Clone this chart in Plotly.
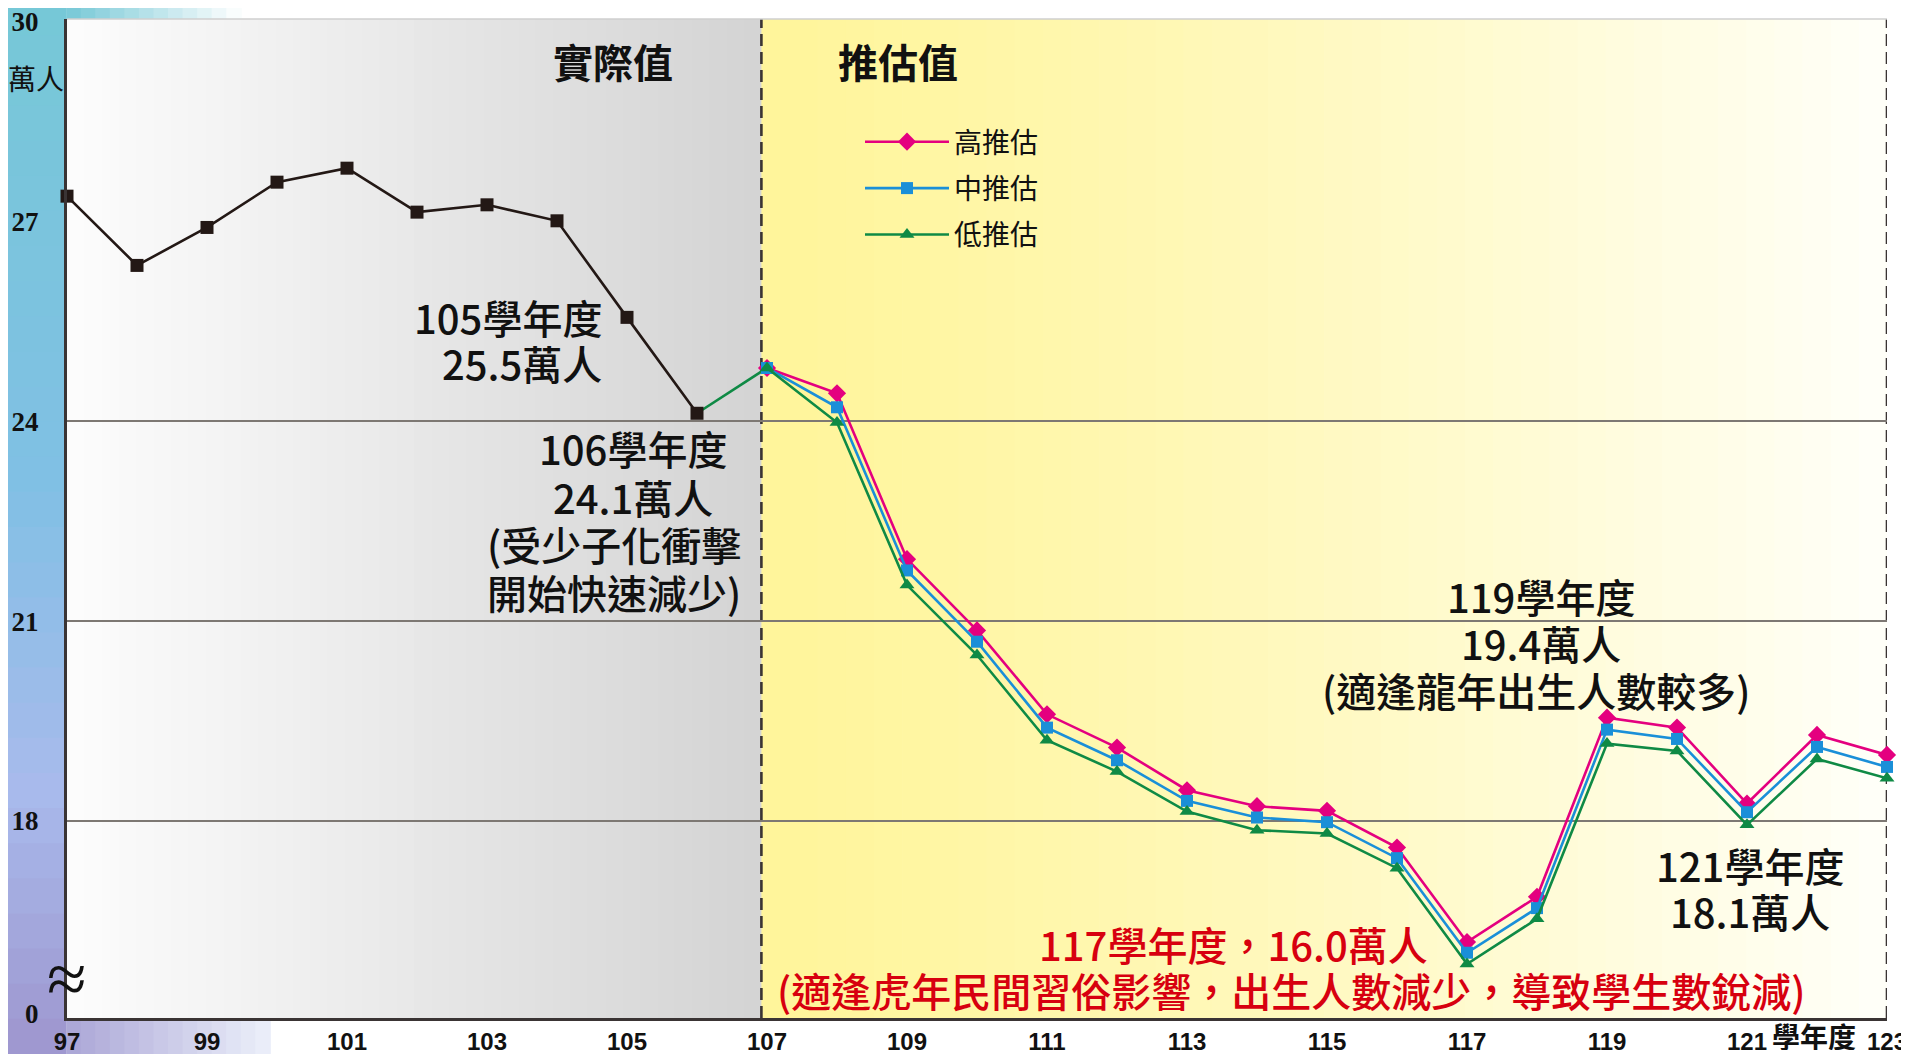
import plotly.graph_objects as go

# ---------------- data ----------------
years_actual = [97, 98, 99, 100, 101, 102, 103, 104, 105, 106]
actual = [27.38, 26.34, 26.91, 27.59, 27.80, 27.14, 27.25, 27.01, 25.56, 24.12]

years_proj = list(range(107, 124))
high = [24.80, 24.42, 21.93, 20.86, 19.60, 19.10, 18.46, 18.22, 18.15, 17.60,
        16.18, 16.86, 19.55, 19.40, 18.26, 19.29, 18.99]
mid = [24.80, 24.21, 21.76, 20.69, 19.40, 18.91, 18.30, 18.05, 17.98, 17.44,
       16.02, 16.69, 19.37, 19.23, 18.13, 19.11, 18.81]
low = [24.80, 23.98, 21.54, 20.49, 19.21, 18.74, 18.14, 17.86, 17.81, 17.29,
       15.85, 16.53, 19.16, 19.05, 17.94, 18.93, 18.64]

series_names = ["高推估", "中推估", "低推估"]
x_tick_vals = [97, 99, 101, 103, 105, 107, 109, 111, 113, 115, 117, 119, 121, 123]
x_tick_text = [str(v) for v in x_tick_vals]
y_tick_vals = [15.1, 18, 21, 24, 27, 30]
y_tick_text = ["0", "18", "21", "24", "27", "30"]
grid_vals = [18, 21, 24]

# ---------------- styles ----------------
C_ACT = "#231815"
C_HIGH = "#e4007f"
C_MID = "#1a8fd8"
C_LOW = "#0f8a45"
C_RED = "#d7000f"
CJK = "Noto Sans CJK TC"

X0, X1 = 97, 123
Y0, Y1 = 15.04, 30.04
SPLIT = 106.92

# page body has an 8px default margin; compensate so the plot lands where intended
W, H = 1901, 1046
ML, MT, MR, MB = 59, 11, 22, 36
PW, PH = W - ML - MR, H - MT - MB

fig = go.Figure()

# connector from last actual value to first projection
fig.add_trace(go.Scatter(x=[years_actual[-1], years_proj[0]], y=[actual[-1], low[0]],
                         mode="lines", line=dict(color=C_LOW, width=2.6),
                         showlegend=False, hoverinfo="skip", cliponaxis=False))
fig.add_trace(go.Scatter(x=years_actual, y=actual, mode="lines+markers",
                         line=dict(color=C_ACT, width=2.6),
                         marker=dict(symbol="square", size=13, color=C_ACT),
                         showlegend=False, cliponaxis=False))
for name, vals, col, sym, sz, grp in [
    (series_names[0], high, C_HIGH, "diamond", 14, "h"),
    (series_names[1], mid, C_MID, "square", 12, "m"),
    (series_names[2], low, C_LOW, "triangle-up", 13, "l"),
]:
    fig.add_trace(go.Scatter(x=years_proj, y=vals, name=name, mode="lines+markers",
                             line=dict(color=col, width=2.6),
                             marker=dict(symbol=sym, size=sz, color=col),
                             legendgroup=grp, cliponaxis=False))

shapes = []


def lerp(c1, c2, t):
    return "rgb(%d,%d,%d)" % tuple(round(a + (b - a) * t) for a, b in zip(c1, c2))


# gray gradient (actual region)
n = 40
for i in range(n):
    xa = X0 + (SPLIT - X0) * i / n
    xb = X0 + (SPLIT - X0) * (i + 1) / n + 0.01
    shapes.append(dict(type="rect", xref="x", yref="paper", x0=xa, x1=xb, y0=0, y1=1,
                       fillcolor=lerp((253, 253, 253), (211, 211, 211), (i + 0.5) / n),
                       line=dict(width=0), layer="below"))
# yellow gradient (projection region)
for i in range(n):
    xa = SPLIT + (X1 - SPLIT) * i / n
    xb = SPLIT + (X1 - SPLIT) * (i + 1) / n + 0.01
    t = ((i + 0.5) / n) ** 1.3
    shapes.append(dict(type="rect", xref="x", yref="paper", x0=xa, x1=xb, y0=0, y1=1,
                       fillcolor=lerp((255, 245, 155), (255, 255, 250), t),
                       line=dict(width=0), layer="below"))

# left decorative band (image imitation)
LW = (ML + 8) / PW
m = 30
top_p, bot_p = (PH + MT + 8) / PH, -(MB) / PH
stops = [(0.0, (118, 200, 214)), (0.45, (128, 192, 228)), (0.75, (168, 186, 236)), (1.0, (158, 150, 206))]


def band_color(t):
    for (ta, ca), (tb, cb) in zip(stops[:-1], stops[1:]):
        if ta <= t <= tb:
            return lerp(ca, cb, (t - ta) / (tb - ta))
    return lerp(stops[-1][1], stops[-1][1], 0)


for i in range(m):
    ya = top_p - (top_p - bot_p) * i / m
    yb = top_p - (top_p - bot_p) * (i + 1) / m - 0.002
    shapes.append(dict(type="rect", xref="paper", yref="paper", x0=-LW - 0.002, x1=-0.0005,
                       y0=yb, y1=ya, fillcolor=band_color((i + 0.5) / m),
                       line=dict(width=0), layer="below"))
# top-left strip above plot
for i in range(12):
    xa = -0.0005 + 0.008 * i
    shapes.append(dict(type="rect", xref="paper", yref="paper", x0=xa, x1=xa + 0.0085,
                       y0=1.0, y1=top_p, fillcolor=lerp((118, 200, 214), (255, 255, 255), (i + 0.5) / 12),
                       line=dict(width=0), layer="below"))
# bottom-left strip below plot
for i in range(14):
    xa = -0.0005 + 0.008 * i
    shapes.append(dict(type="rect", xref="paper", yref="paper", x0=xa, x1=xa + 0.0085,
                       y0=bot_p, y1=0, fillcolor=lerp((170, 165, 214), (236, 240, 250), (i + 0.5) / 14),
                       line=dict(width=0), layer="below"))

# top border
shapes.append(dict(type="line", xref="paper", yref="paper", x0=0, x1=1, y0=1, y1=1,
                   line=dict(color="#cfcfcf", width=1.5), layer="above"))
# dashed separators
for xv in [SPLIT, X1]:
    shapes.append(dict(type="line", xref="x", yref="paper", x0=xv, x1=xv, y0=0, y1=1,
                       line=dict(color="#3a3434", width=2.6, dash="12px,6px"), layer="between"))

annotations = []
TXT = dict(family=CJK, size=40, color="#111111", weight=500)
RED = dict(family=CJK, size=40, color=C_RED, weight=500)
HEAD = dict(family=CJK, size=40, color="#111", weight="bold")

# (text, x, y, xanchor, font)
text_lines = [
    ("實際值", 104.8, 29.41, "center", HEAD),
    ("推估值", 108.87, 29.41, "center", HEAD),
    ("105學年度", 104.67, 25.57, "right", TXT),
    ("25.5萬人", 104.67, 24.88, "right", TXT),
    ("106學年度", 105.09, 23.60, "center", TXT),
    ("24.1萬人", 105.09, 22.87, "center", TXT),
    ("(受少子化衝擊", 104.82, 22.15, "center", TXT),
    ("開始快速減少)", 104.82, 21.44, "center", TXT),
    ("119學年度", 118.06, 21.37, "center", TXT),
    ("19.4萬人", 118.06, 20.67, "center", TXT),
    ("(適逢龍年出生人數較多)", 117.99, 19.96, "center", TXT),
    ("121學年度", 121.04, 17.34, "center", TXT),
    ("18.1萬人", 121.04, 16.65, "center", TXT),
    ("117學年度，16.0萬人", 113.66, 16.15, "center", RED),
    ("(適逢虎年民間習俗影響，出生人數減少，導致學生數銳減)", 114.48, 15.46, "center", RED),
]
for txt, xv, yv, xa, fnt in text_lines:
    annotations.append(dict(x=xv, y=yv, xref="x", yref="y", text=txt, showarrow=False,
                            xanchor=xa, yanchor="middle", font=fnt))

annotations += [
    dict(xref="paper", yref="paper", x=-31 / PW, y=(PH - 59) / PH, text="萬人", showarrow=False,
         xanchor="center", yanchor="middle",
         font=dict(family=CJK, size=28, color="#111")),
    dict(xref="paper", yref="y", x=0, y=15.62, text="≈", showarrow=False,
         xanchor="center", yanchor="middle",
         font=dict(family="Liberation Serif", size=72, color="#111")),
    dict(xref="x", yref="paper", x=121.95, y=0, xanchor="center", yanchor="middle", yshift=-18,
         text="學年度", showarrow=False, height=28,
         font=dict(family=CJK, size=28, color="#111", weight="bold")),
]

fig.update_layout(
    width=W, height=H,
    margin=dict(l=ML, r=MR, t=MT, b=MB, pad=0),
    paper_bgcolor="white", plot_bgcolor="white",
    shapes=shapes, annotations=annotations,
    showlegend=True,
    legend=dict(x=(860 - 67) / PW, y=(PH - 98) / PH, xanchor="left", yanchor="top",
                bgcolor="rgba(0,0,0,0)",
                font=dict(family=CJK, size=28, color="#111"), itemwidth=84,
                tracegroupgap=7, traceorder="grouped"),
    xaxis=dict(range=[X0, X1], tickvals=x_tick_vals, ticktext=x_tick_text, showgrid=False,
               zeroline=False, showline=True, linecolor="#3a3434", linewidth=3, ticks="",
               tickfont=dict(family="Liberation Sans", size=24, color="#111", weight="bold"),
               ticklabelstandoff=0, automargin=False, ticklabeloverflow="allow"),
    yaxis=dict(range=[Y0, Y1], tickvals=y_tick_vals, ticktext=y_tick_text, showgrid=False,
               zeroline=False, showline=True, linecolor="#3a3434", linewidth=3, ticks="",
               tickfont=dict(family="Liberation Serif", size=27, color="#111", weight="bold"),
               ticklabelstandoff=20, automargin=False, ticklabeloverflow="allow",
               minor=dict(tickvals=grid_vals, showgrid=True, gridcolor="#7d7873", gridwidth=1.6,
                          ticks="")),
)

fig.write_html("out.html")
